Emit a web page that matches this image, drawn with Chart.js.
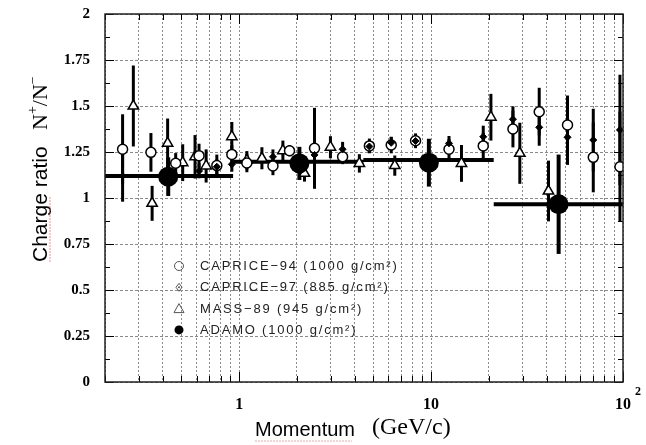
<!DOCTYPE html>
<html><head><meta charset="utf-8">
<script src="https://cdn.jsdelivr.net/npm/chart.js@4.4.1/dist/chart.umd.min.js"></script>
<style>html,body{margin:0;padding:0;background:#fff}canvas{display:block}</style>
</head><body>
<canvas id="c" width="646" height="445"></canvas>
<script>
// ---- data ----
const caprice94Momentum = [0.247,0.347,0.467,0.618,0.765,0.916,1.097,1.5,1.83,2.47,3.46,4.77,6.2,8.3,12.4,18.7,26.7,36.6,51.4,70,96.4];
const caprice94Ratio    = [1.265,1.248,1.189,1.23,1.176,1.237,1.19,1.174,1.257,1.27,1.224,1.283,1.288,1.311,1.265,1.283,1.375,1.469,1.397,1.221,1.17];
const caprice94Error    = [0.19,0.105,0.055,0.065,0.06,0.05,0.05,0.05,0.03,0.22,0.04,0.04,0.045,0.04,0.055,0.07,0.1,0.13,0.16,0.19,0.3];

const caprice97Momentum = [0.247,0.618,0.765,0.916,1.5,2.47,3.46,4.77,6.2,8.3,12.4,18.7,26.7,36.6,51.4,70,96.4];
const caprice97Ratio    = [1.12,1.147,1.17,1.183,1.224,1.234,1.265,1.28,1.3,1.31,1.297,1.333,1.428,1.384,1.33,1.315,1.37];
const caprice97Error    = [0.14,0.04,0.04,0.04,0.04,0.04,0.04,0.03,0.03,0.03,0.04,0.06,0.07,0.1,0.15,0.17,0.3];

const mass89Momentum = [0.281,0.352,0.424,0.508,0.589,0.673,0.916,1.097,1.314,1.69,2.19,2.99,4.23,6.47,14.4,20.5,29,40.9];
const mass89Ratio    = [1.5,0.971,1.297,1.192,1.224,1.174,1.333,1.205,1.216,1.257,1.134,1.276,1.188,1.176,1.188,1.439,1.243,1.038];
const mass89Error    = [0.22,0.095,0.135,0.1,0.118,0.09,0.08,0.05,0.06,0.055,0.045,0.06,0.05,0.055,0.1,0.127,0.166,0.165];

const adamoMomentum = [0.427,2.06,9.74,46.2];
const adamoRatio    = [1.116,1.188,1.192,0.966];
const adamoError    = [0.105,0.09,0.13,0.27];

const adamoBinLow   = [0.2,0.93,4.44,21.2];
const adamoBinHigh  = [0.93,4.44,21.2,100];
const adamoBinRatio = [1.12,1.197,1.207,0.966];

const seriesLabels = ['CAPRICE\u221294 (1000 g/cm\u00B2)','CAPRICE\u221297 (885 g/cm\u00B2)','MASS\u221289 (945 g/cm\u00B2)','ADAMO (1000 g/cm\u00B2)'];

const xGridValues = [0.2,0.3,0.4,0.5,0.6,0.7,0.8,0.9,1,2,3,4,5,6,7,8,9,10,20,30,40,50,60,70,80,90,100];
const xTickLabels = {1:'1',10:'10',100:'10'};
const yTickLabels = ['0','0.25','0.5','0.75','1','1.25','1.5','1.75','2'];
const yMin = 0, yMax = 2, yStep = 0.25, yMinorStep = 0.125;
const xTitle = ['Momentum','(GeV/c)'];
const yTitle = ['Charge ratio','N','+','/','N','\u2212'];

// ---- build datasets ----
const pts = (xs, ys) => xs.map((v,i)=>({x:v, y:ys[i]}));
const binData = [];
adamoBinLow.forEach((lo,i)=>{
  binData.push({x:lo,y:adamoBinRatio[i]},{x:adamoBinHigh[i],y:adamoBinRatio[i]});
  if (i < adamoBinLow.length-1) binData.push({x:adamoBinHigh[i],y:null});
});

const datasets = [
  {type:'scatter', label:seriesLabels[3], legendStyle:'dot', data:pts(adamoMomentum,adamoRatio), errors:adamoError, errorWidth:4,
   pointStyle:'circle', pointRadius:10, backgroundColor:'#000', borderColor:'#000', borderWidth:0, order:1},
  {type:'scatter', label:seriesLabels[1], legendStyle:'diamond', data:pts(caprice97Momentum,caprice97Ratio), errors:caprice97Error, errorWidth:3,
   pointStyle:'rectRot', pointRadius:3.5, backgroundColor:'#000', borderColor:'#000', borderWidth:1, order:2},
  {type:'scatter', label:seriesLabels[0], legendStyle:'circle', data:pts(caprice94Momentum,caprice94Ratio), errors:caprice94Error, errorWidth:3,
   pointStyle:'circle', pointRadius:5, backgroundColor:'#fff', borderColor:'#000', borderWidth:1.5, order:3},
  {type:'scatter', label:seriesLabels[2], legendStyle:'triangle', data:pts(mass89Momentum,mass89Ratio), errors:mass89Error, errorWidth:3,
   pointStyle:'triangle', pointRadius:6, backgroundColor:'#fff', borderColor:'#000', borderWidth:1.5, order:4},
  {type:'line', label:'ADAMO bins', data:binData, spanGaps:false, borderColor:'#000', borderWidth:4, pointRadius:0,
   borderCapStyle:'butt', fill:false, order:5}
];

const decor = {
  id:'decor',
  beforeDatasetsDraw(chart){
    const {ctx, scales:{x,y}, chartArea:a} = chart;
    ctx.save();
    ctx.beginPath(); ctx.rect(a.left,a.top,a.right-a.left,a.bottom-a.top); ctx.clip();
    ctx.strokeStyle = '#000'; ctx.lineCap = 'butt';
    chart.data.datasets.forEach(ds=>{
      if (!ds.errors) return;
      ctx.lineWidth = ds.errorWidth;
      ds.data.forEach((p,i)=>{
        const px = x.getPixelForValue(p.x);
        ctx.beginPath();
        ctx.moveTo(px, y.getPixelForValue(p.y + ds.errors[i]));
        ctx.lineTo(px, y.getPixelForValue(p.y - ds.errors[i]));
        ctx.stroke();
      });
    });
    ctx.restore();
  },
  afterDatasetsDraw(chart){
    const {ctx, scales:{x,y}, chartArea:a} = chart;
    ctx.save();
    // inner ticks
    ctx.strokeStyle = '#000'; ctx.lineWidth = 1;
    for (let v = yMin; v <= yMax + 1e-9; v += yMinorStep) {
      const py = Math.round(y.getPixelForValue(v)) + 0.5;
      const len = (Math.abs(v/yStep - Math.round(v/yStep)) < 1e-6) ? 9 : 5;
      ctx.beginPath(); ctx.moveTo(a.left, py); ctx.lineTo(a.left+len, py);
      ctx.moveTo(a.right, py); ctx.lineTo(a.right-len, py); ctx.stroke();
    }
    xGridValues.forEach(v=>{
      const px = Math.round(x.getPixelForValue(v)) + 0.5;
      const dec = Math.abs(Math.log10(v) - Math.round(Math.log10(v))) < 1e-6;
      const len = dec ? 10 : 6;
      ctx.beginPath(); ctx.moveTo(px, a.bottom); ctx.lineTo(px, a.bottom-len);
      ctx.moveTo(px, a.top); ctx.lineTo(px, a.top+len); ctx.stroke();
    });
    // frame
    ctx.lineWidth = 1.5; ctx.strokeStyle = '#222';
    ctx.strokeRect(a.left, a.top, a.right-a.left, a.bottom-a.top);
    // legend
    const items = chart.data.datasets.filter(d=>d.legendStyle);
    const order = ['circle','diamond','triangle','dot'];
    items.sort((p,q)=>order.indexOf(p.legendStyle)-order.indexOf(q.legendStyle));
    items.forEach((d,i)=>{
      const ly = 266 + i*21.3, lx = 179;
      ctx.lineWidth = 1; ctx.strokeStyle = '#555'; ctx.fillStyle = '#555';
      ctx.beginPath();
      if (d.legendStyle==='circle'){ ctx.arc(lx,ly,4.5,0,Math.PI*2); ctx.stroke(); }
      else if (d.legendStyle==='diamond'){ ctx.moveTo(lx,ly-4); ctx.lineTo(lx+3,ly); ctx.lineTo(lx,ly+4); ctx.lineTo(lx-3,ly); ctx.closePath(); ctx.stroke();
        ctx.beginPath(); ctx.arc(lx,ly,1,0,Math.PI*2); ctx.fill(); }
      else if (d.legendStyle==='triangle'){ ctx.moveTo(lx,ly-5); ctx.lineTo(lx+5,ly+4); ctx.lineTo(lx-5,ly+4); ctx.closePath(); ctx.stroke(); }
      else { ctx.fillStyle='#000'; ctx.arc(lx,ly,4.5,0,Math.PI*2); ctx.fill(); }
      ctx.fillStyle = '#222';
      ctx.font = '13px "Liberation Sans", Arial, sans-serif';
      ctx.letterSpacing = '1.8px';
      ctx.textBaseline = 'middle'; ctx.textAlign = 'left';
      ctx.fillText(d.label, 200, ly+0.5);
    });
    ctx.restore();
  },
  afterDraw(chart){
    const {ctx, scales:{x}} = chart;
    ctx.save();
    ctx.fillStyle = '#000';
    // superscript of 10^2
    ctx.font = 'bold 12px "Liberation Serif", "Times New Roman", serif';
    ctx.textAlign = 'left'; ctx.textBaseline = 'alphabetic';
    ctx.fillText('2', x.getPixelForValue(100) + 12, 395);
    // x title
    ctx.font = '20px "Liberation Sans", Arial, sans-serif';
    ctx.fillText(xTitle[0], 255, 436);
    ctx.font = '24px "Liberation Serif", "Times New Roman", serif';
    ctx.fillText(xTitle[1], 372, 434);
    // spell-check underline under Momentum
    ctx.strokeStyle = 'rgba(235,90,90,0.55)'; ctx.lineWidth = 1.2;
    ctx.setLineDash([2,1]);
    ctx.beginPath(); ctx.moveTo(255,441); ctx.lineTo(352,441); ctx.stroke();
    ctx.setLineDash([]);
    // y title (rotated)
    ctx.translate(47, 262); ctx.rotate(-Math.PI/2);
    ctx.font = '21px "Liberation Sans", Arial, sans-serif';
    ctx.fillText(yTitle[0], 0, 0);
    let px = 132;
    ctx.font = '22px "Liberation Serif", "Times New Roman", serif';
    ctx.fillText(yTitle[1], px, 0); px += ctx.measureText(yTitle[1]).width;
    ctx.font = '14px "Liberation Serif", "Times New Roman", serif';
    ctx.fillText(yTitle[2], px, -10); px += ctx.measureText(yTitle[2]).width;
    ctx.font = '22px "Liberation Serif", "Times New Roman", serif';
    ctx.fillText(yTitle[3], px, 0); px += ctx.measureText(yTitle[3]).width;
    ctx.fillText(yTitle[4], px, 0); px += ctx.measureText(yTitle[4]).width;
    ctx.font = '14px "Liberation Serif", "Times New Roman", serif';
    ctx.fillText(yTitle[5], px, -10);
    // spell-check underline under Charge
    ctx.strokeStyle = 'rgba(235,90,90,0.55)'; ctx.lineWidth = 1.2;
    ctx.setLineDash([2,1]);
    ctx.beginPath(); ctx.moveTo(0,3); ctx.lineTo(66,3); ctx.stroke();
    ctx.restore();
  }
};

new Chart(document.getElementById('c'), {
  type:'scatter',
  data:{datasets},
  options:{
    responsive:false, animation:false, events:[],
    layout:{padding:{top:14,right:23,left:0,bottom:0}},
    plugins:{legend:{display:false}, tooltip:{enabled:false}},
    scales:{
      x:{type:'logarithmic', min:0.2, max:100,
        afterBuildTicks(s){ s.ticks = xGridValues.map(v=>({value:v})); },
        afterFit(s){ s.height = 63; s.paddingLeft = 0; s.paddingRight = 0; },
        grid:{color:'#8a8a8a', lineWidth:1, drawTicks:false},
        border:{display:false, dash:[2,2]},
        ticks:{autoSkip:false, maxRotation:0, padding:13, color:'#000',
          font:{family:'"Liberation Serif", "Times New Roman", serif', size:16, weight:'bold'},
          callback:(v)=> xTickLabels[v] !== undefined ? xTickLabels[v] : ''}
      },
      y:{type:'linear', min:yMin, max:yMax,
        afterFit(s){ s.width = 105; s.paddingTop = 0; s.paddingBottom = 0; },
        grid:{color:'#8a8a8a', lineWidth:1, drawTicks:false},
        border:{display:false, dash:[3,2]},
        ticks:{stepSize:yStep, padding:15, color:'#000',
          font:{family:'"Liberation Serif", "Times New Roman", serif', size:15, weight:'bold'},
          callback:(v)=> yTickLabels[Math.round((v - yMin)/yStep)]}
      }
    }
  },
  plugins:[decor]
});
</script>
</body></html>
